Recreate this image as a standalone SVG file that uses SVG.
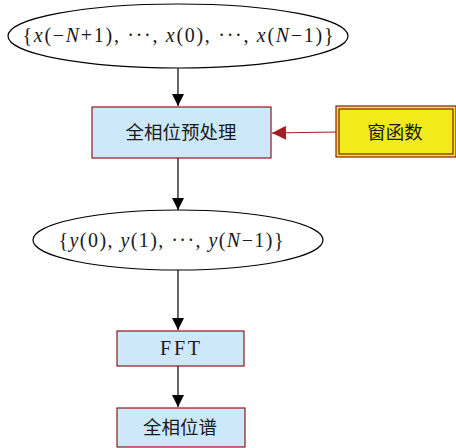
<svg xmlns="http://www.w3.org/2000/svg" width="456" height="448" viewBox="0 0 456 448">
<style>
.t{font-family:"Liberation Serif","DejaVu Serif",serif;font-size:20px;fill:#1a1a1a;text-anchor:middle}
.c{font-family:"Noto Sans CJK SC","Liberation Serif",sans-serif;font-size:18.5px;fill:#1a1a1a;text-anchor:middle}
.box{fill:#cde9f9;stroke:#8b1a1a;stroke-width:1.2}
.ell{fill:#fff;stroke:#000;stroke-width:1.2}
.e{stroke:#000;stroke-width:1.2;fill:none}
</style>
<defs>
<marker id="ab" viewBox="0 0 10 10" refX="10" refY="5" markerUnits="userSpaceOnUse" markerWidth="12" markerHeight="16" orient="auto"><path d="M0,0 L10,5 L0,10 Z" fill="#000"/></marker>
<marker id="ar" viewBox="0 0 10 10" refX="10" refY="5" markerUnits="userSpaceOnUse" markerWidth="18" markerHeight="14" orient="auto"><path d="M0,0 L10,5 L0,10 Z" fill="#a51c24"/></marker>
</defs>
<g id="connectors">
<line class="e" x1="178" y1="68" x2="178" y2="106" marker-end="url(#ab)"/>
<line class="e" x1="178" y1="158" x2="178" y2="210" marker-end="url(#ab)"/>
<line class="e" x1="178" y1="270" x2="178" y2="330" marker-end="url(#ab)"/>
<line class="e" x1="178" y1="366" x2="178" y2="407" marker-end="url(#ab)"/>
<line x1="336" y1="132" x2="272" y2="133" stroke="#a51c24" stroke-width="1.2" marker-end="url(#ar)"/>
</g>
<g id="n1">
<ellipse class="ell" cx="178" cy="36" rx="170" ry="32"/>
<text class="t" x="178" y="42" textLength="311" lengthAdjust="spacing">{<tspan font-style="italic">x</tspan>(−<tspan font-style="italic">N</tspan>+1), ···, <tspan font-style="italic">x</tspan>(0), ···, <tspan font-style="italic">x</tspan>(<tspan font-style="italic">N</tspan>−1)}</text>
</g>
<g id="n2">
<rect class="box" x="92" y="107" width="179" height="51"/>
<text class="c" x="181" y="139">全相位预处理</text>
</g>
<g id="n3">
<rect x="336" y="106" width="120" height="51" fill="#f2ea1a" stroke="#8b1a1a" stroke-width="1.2"/>
<rect x="339" y="109" width="114" height="45" fill="none" stroke="#8b1a1a" stroke-width="1.2"/>
<text class="c" x="395" y="139">窗函数</text>
</g>
<g id="n4">
<ellipse class="ell" cx="178" cy="240" rx="145" ry="30"/>
<text class="t" x="171" y="247" textLength="225" lengthAdjust="spacing">{<tspan font-style="italic">y</tspan>(0), <tspan font-style="italic">y</tspan>(1), ···, <tspan font-style="italic">y</tspan>(<tspan font-style="italic">N</tspan>−1)}</text>
</g>
<g id="n5">
<rect class="box" x="117" y="331" width="127" height="35"/>
<text class="t" x="180" y="355" textLength="40" lengthAdjust="spacing">FFT</text>
</g>
<g id="n6">
<rect class="box" x="117" y="408" width="128" height="39"/>
<text class="c" x="180" y="434">全相位谱</text>
</g>
</svg>
